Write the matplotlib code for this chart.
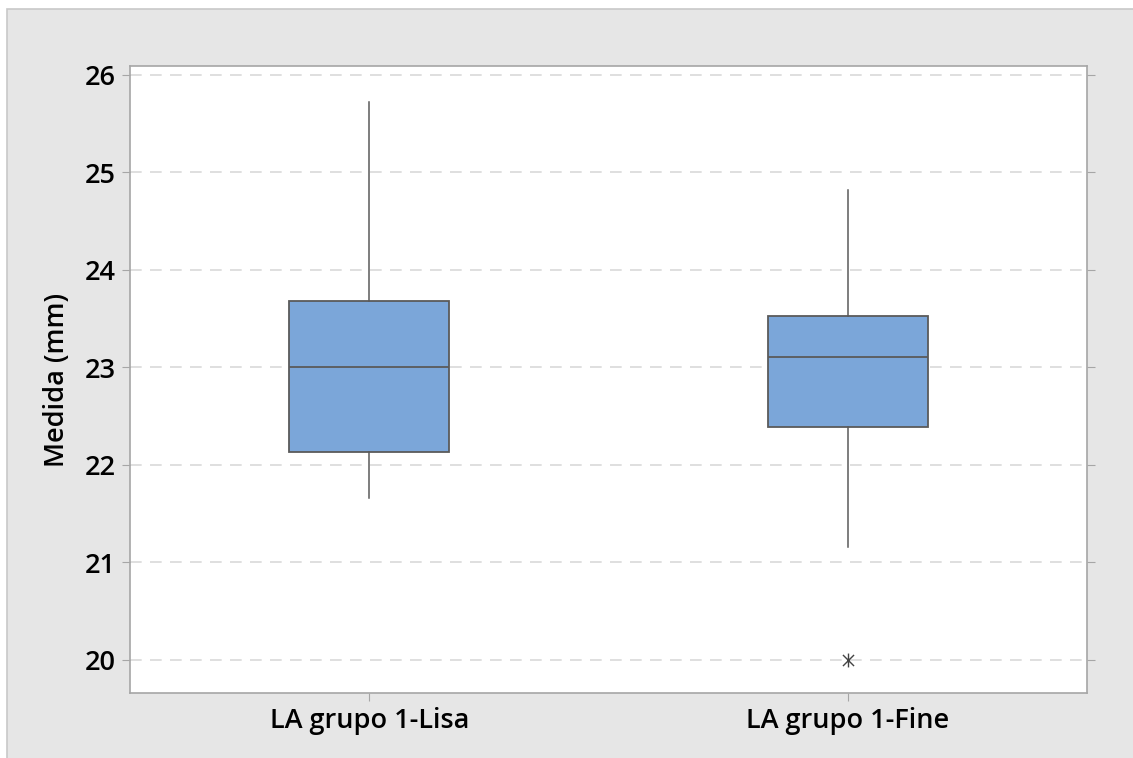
"""Boxplot of LA group 1 measurements (Lisa vs Fine)."""
import matplotlib
matplotlib.use("Agg")
import matplotlib.pyplot as plt
from matplotlib.patches import Rectangle
from matplotlib.path import Path

plt.rcParams["font.family"] = ["Open Sans", "DejaVu Sans"]

# values
groups = ["LA grupo 1-Lisa", "LA grupo 1-Fine"]
whisker_low = [21.66, 21.16]
q1 = [22.13, 22.39]
medians = [23.00, 23.11]
q3 = [23.68, 23.53]
whisker_high = [25.72, 24.82]
outliers = [[], [20.0]]
yticks = [20, 21, 22, 23, 24, 25, 26]

BOX_FILL = "#7ba6d9"
EDGE = "#5a5a5a"
FS = 19.5

# Minitab outlier symbol: an X with a vertical stroke through it
star = Path([(0, -1), (0, 1), (-0.8, -0.8), (0.8, 0.8), (-0.8, 0.8), (0.8, -0.8)],
            [Path.MOVETO, Path.LINETO, Path.MOVETO, Path.LINETO,
             Path.MOVETO, Path.LINETO])

fig = plt.figure(figsize=(11.33, 7.58), dpi=100)
fig.patch.set_facecolor("white")
# grey panel behind the axes
fig.patches.append(Rectangle((7 / 1133, -0.01), 1.0, 1 - 9 / 758 + 0.01,
                             transform=fig.transFigure, facecolor="#e6e6e6",
                             edgecolor="#c8c8c8", linewidth=1.2, zorder=-1))

ax = fig.add_axes([130 / 1133, 65 / 758, 957 / 1133, 627 / 758])
ax.set_facecolor("white")

stats = []
for i, name in enumerate(groups):
    stats.append({
        "label": name,
        "whislo": whisker_low[i], "q1": q1[i], "med": medians[i],
        "q3": q3[i], "whishi": whisker_high[i], "fliers": outliers[i],
    })

ax.bxp(stats, positions=[1, 2], widths=0.334, patch_artist=True,
       showcaps=False,
       boxprops=dict(facecolor=BOX_FILL, edgecolor=EDGE, linewidth=1.3),
       medianprops=dict(color=EDGE, linewidth=1.3),
       whiskerprops=dict(color=EDGE, linewidth=1.1),
       flierprops=dict(marker=star, markersize=10, markeredgecolor="#444444",
                       markeredgewidth=1.0, linestyle="none"))

ax.set_xlim(0.5, 2.5)
ax.set_ylim(19.66, 26.09)
ax.set_yticks(yticks)
ax.set_xticks([1, 2])
ax.set_xticklabels(groups)

for y in yticks:
    ax.axhline(y, color="#d9d9d9", linewidth=1.2, linestyle=(0, (7, 5)), zorder=0)

for s in ax.spines.values():
    s.set_color("#a6a6a6")
    s.set_linewidth(1.2)

ax.tick_params(axis="both", direction="out", length=6, color="#a6a6a6",
               labelsize=FS, labelcolor="black", pad=4)
ax.tick_params(axis="y", right=True)
for lbl in ax.get_xticklabels() + ax.get_yticklabels():
    lbl.set_fontweight("semibold")

ax.set_ylabel("Medida (mm)", fontsize=FS, fontweight="semibold", labelpad=10)

fig.savefig("out.png", dpi=100)
